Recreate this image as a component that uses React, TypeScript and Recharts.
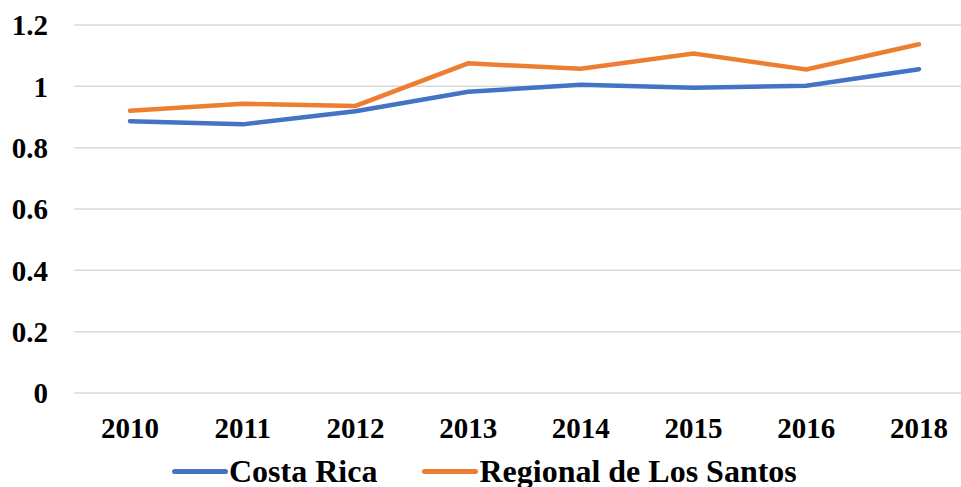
import React from "react";
import { LineChart, Line, XAxis, YAxis, CartesianGrid, Legend } from "recharts";

const years = ["2010", "2011", "2012", "2013", "2014", "2015", "2016", "2018"];
const costaRica = [0.886, 0.876, 0.919, 0.982, 1.005, 0.995, 1.002, 1.056];
const regionalLosSantos = [0.92, 0.943, 0.936, 1.075, 1.057, 1.107, 1.055, 1.137];
const yTicks = [0, 0.2, 0.4, 0.6, 0.8, 1, 1.2];

const SERIES = [
  { key: "costaRica", name: "Costa Rica", color: "#4472C4" },
  { key: "regional", name: "Regional de Los Santos", color: "#ED7D31" },
];

const FONT = "'Liberation Serif', 'Times New Roman', serif";

const data = years.map((year, i) => ({
  year,
  costaRica: costaRica[i],
  regional: regionalLosSantos[i],
}));

const LegendContent = () => (
  <div
    style={{
      display: "flex",
      alignItems: "center",
      fontFamily: FONT,
      fontWeight: "bold",
      fontSize: 32,
      lineHeight: "36px",
      color: "#000",
      whiteSpace: "nowrap",
    }}
  >
    {SERIES.map((s, i) => (
      <div key={s.key} style={{ display: "flex", alignItems: "center", marginRight: i === 0 ? 45 : 0 }}>
        <div style={{ width: 56, height: 5, background: s.color, borderRadius: 3, marginRight: 1 }} />
        <span>{s.name}</span>
      </div>
    ))}
  </div>
);

const App: React.FC = () => {
  return (
    <div style={{ position: "absolute", left: 0, top: 0, width: 961, height: 487, overflow: "hidden", background: "#fff" }}>
      <LineChart width={975} height={487} data={data} margin={{ top: 25, right: 0, left: 0, bottom: 0 }}>
        <CartesianGrid vertical={false} stroke="#d9d9d9" strokeWidth={1.5} />
        <XAxis
          dataKey="year"
          axisLine={false}
          tickLine={false}
          height={94}
          tickMargin={18}
          padding={{ left: 56, right: 56 }}
          interval={0}
          tick={{ fill: "#000", fontSize: 29, fontWeight: "bold", fontFamily: FONT }}
        />
        <YAxis
          domain={[0, 1.2]}
          ticks={yTicks}
          width={74}
          axisLine={false}
          tickLine={false}
          tickMargin={20}
          tick={{ fill: "#000", fontSize: 29, fontWeight: "bold", fontFamily: FONT }}
        />
        <Legend
          layout="horizontal"
          verticalAlign="middle"
          align="center"
          content={<LegendContent />}
          wrapperStyle={{ top: 453, left: 172, width: 789, height: 36 }}
        />
        {SERIES.map((s) => (
          <Line
            key={s.key}
            type="linear"
            dataKey={s.key}
            name={s.name}
            stroke={s.color}
            strokeWidth={4.5}
            strokeLinecap="round"
            dot={false}
            isAnimationActive={false}
          />
        ))}
      </LineChart>
    </div>
  );
};

export default App;
